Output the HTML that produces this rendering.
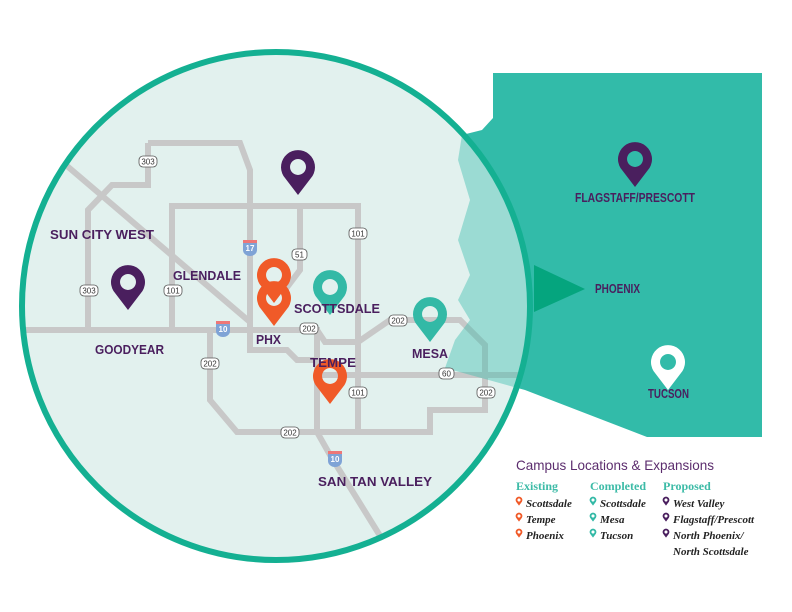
<!DOCTYPE html>
<html><head><meta charset="utf-8"><style>
body{margin:0;background:#fff}
svg{display:block}
.lb{font-family:"Liberation Sans",sans-serif;font-weight:bold;fill:#4a1f5e;font-size:13px}
.sh rect{fill:#fff;stroke:#555;stroke-width:0.8}
.sh text{font-family:"Liberation Sans",sans-serif;font-size:8px;fill:#333;text-anchor:middle}
.is text{font-family:"Liberation Sans",sans-serif;font-size:8px;fill:#fff;text-anchor:middle;font-weight:bold}
.leg{font-family:"Liberation Serif",serif;font-style:italic;font-weight:bold;font-size:11px;fill:#222}
.hd{font-family:"Liberation Serif",serif;font-weight:bold;font-size:12px;fill:#3dbba7}
</style></head><body>
<svg width="792" height="612" viewBox="0 0 792 612" xmlns="http://www.w3.org/2000/svg">
<defs>
<path id="pin" fill-rule="evenodd" d="M-14.5,9 A17,17 0 1 1 14.5,9 L0,28 Z M0,-8 A8,8 0 1 0 0.01,-8 Z"/>
<clipPath id="cc"><circle cx="276" cy="306" r="254"/></clipPath>
<path id="az" d="M493,73 L762,73 L762,437 L647,437 L525,390 L445,368 L455,340 L470,320 L458,300 L470,275 L458,240 L470,200 L458,160 L462,135 L482,130 L493,118 Z"/>
</defs>
<use href="#az" fill="#32bba9"/>
<circle cx="276" cy="306" r="254" fill="#e2f1ee"/>
<g fill="none" stroke="#c8c8c8" stroke-width="6" clip-path="url(#cc)">
<path d="M148,143 L240,143 L250,170 L250,350 L287,350 L297,360 L317,360"/>
<path d="M148,143 L148,185 L112,185 L88,210 L88,330"/>
<path d="M60,160 L250,322"/>
<path d="M172,330 L172,206 L358,206 L358,432"/>
<path d="M300,206 L300,270 L285,290"/>
<path d="M20,330 L317,330 L317,432 L330,455 L395,560"/>
<path d="M317,330 L325,342 L358,342 L390,320 L460,320 L485,345 L485,410 L430,410 L430,432 L237,432 L210,400 L210,330"/>
<path d="M317,375 L540,375"/>
</g>
<g clip-path="url(#cc)"><use href="#az" fill="#32bba9" opacity="0.4"/></g>
<circle cx="276" cy="306" r="254" fill="none" stroke="#14b092" stroke-width="6"/>
<polygon points="534,265 585,289 534,312" fill="#05a57e"/>
<g class="sh">
<rect x="139" y="156" width="18" height="11" rx="4"/><text x="148" y="164.5">303</text>
<rect x="80" y="285" width="18" height="11" rx="4"/><text x="89" y="293.5">303</text>
<rect x="164" y="285" width="18" height="11" rx="4"/><text x="173" y="293.5">101</text>
<rect x="349" y="228" width="18" height="11" rx="4"/><text x="358" y="236.5">101</text>
<rect x="292" y="249" width="15" height="11" rx="4"/><text x="299.5" y="257.5">51</text>
<rect x="300" y="323" width="18" height="11" rx="4"/><text x="309" y="331.5">202</text>
<rect x="201" y="358" width="18" height="11" rx="4"/><text x="210" y="366.5">202</text>
<rect x="389" y="315" width="18" height="11" rx="4"/><text x="398" y="323.5">202</text>
<rect x="439" y="368" width="15" height="11" rx="4"/><text x="446.5" y="376.5">60</text>
<rect x="349" y="387" width="18" height="11" rx="4"/><text x="358" y="395.5">101</text>
<rect x="477" y="387" width="18" height="11" rx="4"/><text x="486" y="395.5">202</text>
<rect x="281" y="427" width="18" height="11" rx="4"/><text x="290" y="435.5">202</text>
</g>
<g class="is">
<path d="M243,240 h14 v10 a7,6 0 0 1 -14,0 z" fill="#7fa3d6"/><rect x="243" y="240" width="14" height="3" fill="#e77"/><text x="250" y="251">17</text>
<path d="M216,321 h14 v10 a7,6 0 0 1 -14,0 z" fill="#7fa3d6"/><rect x="216" y="321" width="14" height="3" fill="#e77"/><text x="223" y="332">10</text>
<path d="M328,451 h14 v10 a7,6 0 0 1 -14,0 z" fill="#7fa3d6"/><rect x="328" y="451" width="14" height="3" fill="#e77"/><text x="335" y="462">10</text>
</g>
<use href="#pin" x="298" y="167" fill="#4a1f5e"/>
<use href="#pin" x="128" y="282" fill="#4a1f5e"/>
<use href="#pin" x="274" y="275" fill="#f05a28"/>
<use href="#pin" x="274" y="298" fill="#f05a28"/>
<use href="#pin" x="330" y="287" fill="#33b9a6"/>
<use href="#pin" x="430" y="314" fill="#33b9a6"/>
<use href="#pin" x="330" y="376" fill="#f05a28"/>
<use href="#pin" x="635" y="159" fill="#4a1f5e"/>
<use href="#pin" x="668" y="362" fill="#fff"/>
<text class="lb" x="50" y="239" textLength="104" lengthAdjust="spacingAndGlyphs">SUN CITY WEST</text>
<text class="lb" x="173" y="280" textLength="68" lengthAdjust="spacingAndGlyphs">GLENDALE</text>
<text class="lb" x="95" y="354" textLength="69" lengthAdjust="spacingAndGlyphs">GOODYEAR</text>
<text class="lb" x="256" y="344" textLength="25" lengthAdjust="spacingAndGlyphs">PHX</text>
<text class="lb" x="294" y="313" textLength="86" lengthAdjust="spacingAndGlyphs">SCOTTSDALE</text>
<text class="lb" x="310" y="367" textLength="46" lengthAdjust="spacingAndGlyphs">TEMPE</text>
<text class="lb" x="412" y="358" textLength="36" lengthAdjust="spacingAndGlyphs">MESA</text>
<text class="lb" x="318" y="486" textLength="114" lengthAdjust="spacingAndGlyphs">SAN TAN VALLEY</text>
<text class="lb" x="575" y="202" font-size="11" textLength="120" lengthAdjust="spacingAndGlyphs">FLAGSTAFF/PRESCOTT</text>
<text class="lb" x="595" y="293" font-size="11" textLength="45" lengthAdjust="spacingAndGlyphs">PHOENIX</text>
<text class="lb" x="648" y="398" font-size="11" textLength="41" lengthAdjust="spacingAndGlyphs">TUCSON</text>
<text x="516" y="470" font-family="Liberation Sans,sans-serif" font-size="14" fill="#5c2d6e" textLength="198" lengthAdjust="spacingAndGlyphs">Campus Locations &amp; Expansions</text>
<text class="hd" x="516" y="490">Existing</text>
<text class="hd" x="590" y="490">Completed</text>
<text class="hd" x="663" y="490">Proposed</text>
<g>
<use href="#pin" transform="translate(519,500) scale(0.2)" fill="#f05a28"/>
<use href="#pin" transform="translate(519,516) scale(0.2)" fill="#f05a28"/>
<use href="#pin" transform="translate(519,532) scale(0.2)" fill="#f05a28"/>
<use href="#pin" transform="translate(593,500) scale(0.2)" fill="#33b9a6"/>
<use href="#pin" transform="translate(593,516) scale(0.2)" fill="#33b9a6"/>
<use href="#pin" transform="translate(593,532) scale(0.2)" fill="#33b9a6"/>
<use href="#pin" transform="translate(666,500) scale(0.2)" fill="#4a1f5e"/>
<use href="#pin" transform="translate(666,516) scale(0.2)" fill="#4a1f5e"/>
<use href="#pin" transform="translate(666,532) scale(0.2)" fill="#4a1f5e"/>
</g>
<text class="leg" x="526" y="507">Scottsdale</text>
<text class="leg" x="526" y="523">Tempe</text>
<text class="leg" x="526" y="539">Phoenix</text>
<text class="leg" x="600" y="507">Scottsdale</text>
<text class="leg" x="600" y="523">Mesa</text>
<text class="leg" x="600" y="539">Tucson</text>
<text class="leg" x="673" y="507">West Valley</text>
<text class="leg" x="673" y="523">Flagstaff/Prescott</text>
<text class="leg" x="673" y="539">North Phoenix/</text>
<text class="leg" x="673" y="555">North Scottsdale</text>
</svg>
</body></html>
